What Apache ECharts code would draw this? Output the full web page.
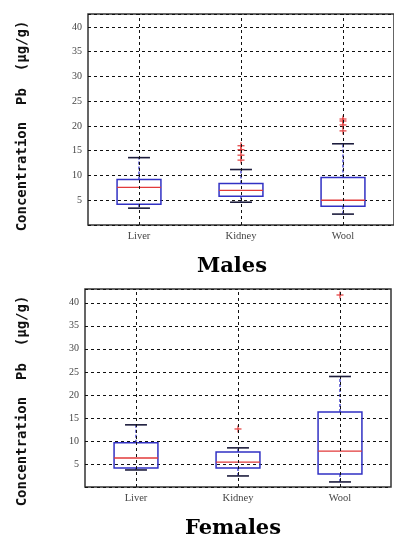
<!DOCTYPE html>
<html>
<head>
<meta charset="utf-8">
<script src="https://cdn.jsdelivr.net/npm/echarts@6/dist/echarts.min.js"></script>
<style>
  html, body { margin: 0; padding: 0; background: #fff; }
  #chart { width: 394px; height: 535px; }
</style>
</head>
<body>
<div id="chart"></div>
<script>
// categories on x
const categories = ['Liver', 'Kidney', 'Wool'];

// [category index, lower whisker, Q1, median, Q3, upper whisker]
const malesStats = [
  [0, 3.4, 4.2, 7.6, 9.2, 13.6],
  [1, 4.6, 5.8, 7.0, 8.4, 11.2],
  [2, 2.2, 3.8, 5.0, 9.6, 16.4]
];
const malesOutliers = [
  [1, 13.1], [1, 14.1], [1, 15.2], [1, 16.0],
  [2, 19.0], [2, 20.2], [2, 21.0], [2, 21.4]
];

const femalesStats = [
  [0, 3.7, 4.1, 6.3, 9.6, 13.5],
  [1, 2.4, 4.1, 5.4, 7.6, 8.5],
  [2, 1.1, 2.8, 7.8, 16.3, 24.0]
];
const femalesOutliers = [
  [1, 12.6],
  [2, 41.7]
];

// y axis: ticks every 5 from 0, labels 5..40
const yStep = 5;
const yMaxMales = 42.6;
const yMaxFemales = 43;

const yTitle = 'Concentration  Pb  (\u00b5g/g)';

const chart = echarts.init(document.getElementById('chart'), null, { renderer: 'canvas' });

const BOX = '#3131c4';
const MED = '#e23a3a';
const CAP = '#1c1c3c';

function renderBox(params, api) {
  const i = api.value(0);
  const lo = api.coord([i, api.value(1)]);
  const q1 = api.coord([i, api.value(2)]);
  const med = api.coord([i, api.value(3)]);
  const q3 = api.coord([i, api.value(4)]);
  const hi = api.coord([i, api.value(5)]);
  const bw = api.size([1, 0])[0] * 0.43;
  const x = med[0];
  const half = bw / 2, capHalf = bw / 4;
  return {
    type: 'group',
    children: [
      { type: 'line', shape: { x1: x, y1: q3[1], x2: x, y2: hi[1] },
        style: { stroke: BOX, lineWidth: 1.3, lineDash: [3, 2] } },
      { type: 'line', shape: { x1: x, y1: q1[1], x2: x, y2: lo[1] },
        style: { stroke: BOX, lineWidth: 1.3, lineDash: [3, 2] } },
      { type: 'line', shape: { x1: x - capHalf, y1: hi[1], x2: x + capHalf, y2: hi[1] },
        style: { stroke: CAP, lineWidth: 1.6 } },
      { type: 'line', shape: { x1: x - capHalf, y1: lo[1], x2: x + capHalf, y2: lo[1] },
        style: { stroke: CAP, lineWidth: 1.6 } },
      { type: 'rect', shape: { x: x - half, y: q3[1], width: bw, height: q1[1] - q3[1] },
        style: { fill: 'none', stroke: BOX, lineWidth: 1.5 } },
      { type: 'line', shape: { x1: x - half, y1: med[1], x2: x + half, y2: med[1] },
        style: { stroke: MED, lineWidth: 1.4 } }
    ]
  };
}

function renderPlus(params, api) {
  const p = api.coord([api.value(0), api.value(1)]);
  const s = 3.5;
  return {
    type: 'group',
    children: [
      { type: 'line', shape: { x1: p[0] - s, y1: p[1], x2: p[0] + s, y2: p[1] },
        style: { stroke: MED, lineWidth: 1.2 } },
      { type: 'line', shape: { x1: p[0], y1: p[1] - s, x2: p[0], y2: p[1] + s },
        style: { stroke: MED, lineWidth: 1.2 } }
    ]
  };
}

function xAx(gridIndex) {
  return {
    type: 'category',
    gridIndex: gridIndex,
    data: categories,
    axisLine: { show: false },
    axisTick: { show: false },
    splitLine: { show: false },
    axisLabel: { fontFamily: 'Liberation Serif', fontSize: 10.5, color: '#444', margin: 6 }
  };
}

function yAx(gridIndex, max) {
  return {
    type: 'value',
    gridIndex: gridIndex,
    min: 0,
    max: max,
    interval: yStep,
    axisLine: { show: false },
    axisTick: { show: false },
    axisLabel: {
      fontFamily: 'Liberation Serif', fontSize: 10, color: '#444', margin: 6,
      showMinLabel: false, showMaxLabel: false
    },
    splitLine: { show: true, lineStyle: { color: '#111', type: [3, 3], width: 1 } }
  };
}

function vLines() {
  return {
    silent: true,
    symbol: 'none',
    label: { show: false },
    lineStyle: { color: '#111', type: [3, 3], width: 1 },
    data: categories.map(c => ({ xAxis: c }))
  };
}

function yTitleText(y) {
  return {
    type: 'text', x: 22, y: y, rotation: Math.PI / 2,
    style: { text: yTitle, fontFamily: 'DejaVu Sans Mono', fontWeight: 'bold', fontSize: 14,
      fill: '#111', textAlign: 'center', textVerticalAlign: 'middle' }
  };
}

const option = {
  backgroundColor: '#fff',
  animation: false,
  grid: [
    { left: 88, top: 14, width: 308, height: 211, show: true,
      borderColor: '#333', borderWidth: 1.5, backgroundColor: 'transparent' },
    { left: 85, top: 289, width: 306, height: 198, show: true,
      borderColor: '#333', borderWidth: 1.5, backgroundColor: 'transparent' }
  ],
  xAxis: [xAx(0), xAx(1)],
  yAxis: [yAx(0, yMaxMales), yAx(1, yMaxFemales)],
  graphic: [
    yTitleText(126),
    yTitleText(401),
    { type: 'text', x: 232, y: 267,
      style: { text: 'Males', fontFamily: 'DejaVu Serif', fontWeight: 'bold', fontSize: 21,
        fill: '#000', textAlign: 'center', textVerticalAlign: 'middle' } },
    { type: 'text', x: 233, y: 529,
      style: { text: 'Females', fontFamily: 'DejaVu Serif', fontWeight: 'bold', fontSize: 21,
        fill: '#000', textAlign: 'center', textVerticalAlign: 'middle' } }
  ],
  series: [
    { type: 'custom', xAxisIndex: 0, yAxisIndex: 0, data: malesStats,
      renderItem: renderBox, encode: { x: 0, y: [1, 2, 3, 4, 5] }, z: 3,
      markLine: vLines() },
    { type: 'custom', xAxisIndex: 0, yAxisIndex: 0, data: malesOutliers,
      renderItem: renderPlus, encode: { x: 0, y: 1 }, z: 4 },
    { type: 'custom', xAxisIndex: 1, yAxisIndex: 1, data: femalesStats,
      renderItem: renderBox, encode: { x: 0, y: [1, 2, 3, 4, 5] }, z: 3,
      markLine: vLines() },
    { type: 'custom', xAxisIndex: 1, yAxisIndex: 1, data: femalesOutliers,
      renderItem: renderPlus, encode: { x: 0, y: 1 }, z: 4 }
  ]
};

chart.setOption(option);
</script>
</body>
</html>
